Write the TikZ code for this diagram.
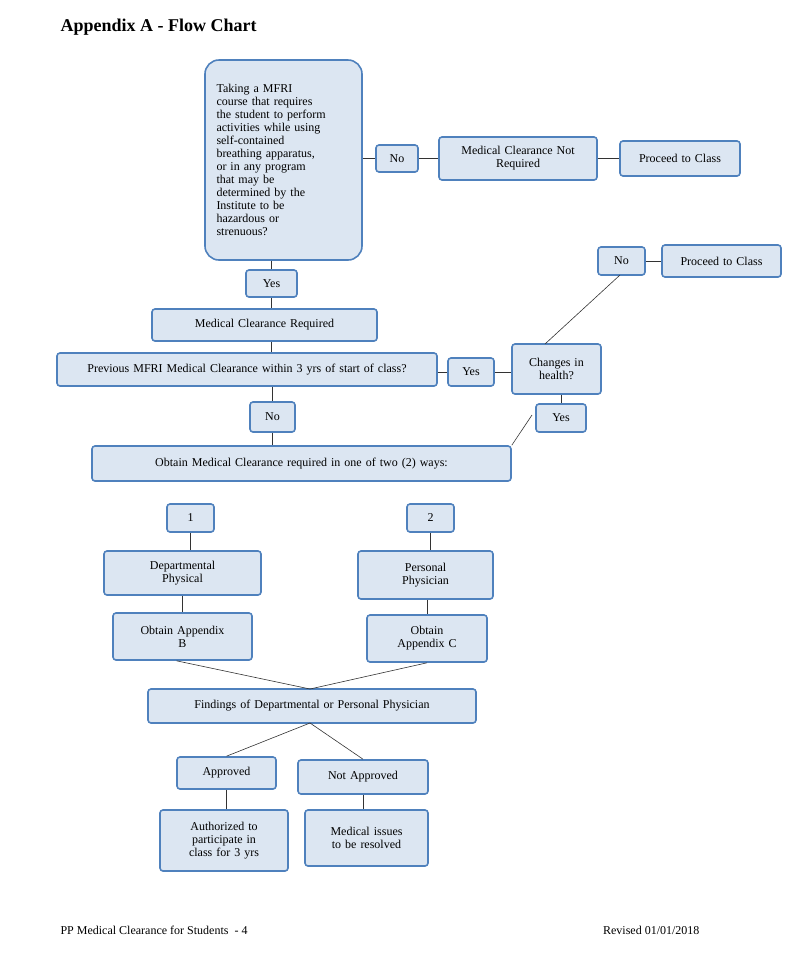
\documentclass[tikz,border=0pt]{standalone}
\usepackage{fontspec}
\setmainfont{Liberation Serif}
\definecolor{boxfill}{HTML}{DCE6F2}
\definecolor{boxline}{HTML}{4F81BD}
\tikzset{%
  flowbox/.style = {shape=rectangle, rounded corners=3pt, draw=boxline,%
                    line width=1.6pt, fill=boxfill, align=center,%
                    inner sep=2pt, font=\fontsize{12}{13}\selectfont},%
  link/.style    = {draw=black!80, line width=0.6pt}%
}
% box from (x1,y1) to (x2,y2) in pixels
\newcommand{\fbx}[6]{%
  \pgfmathsetmacro{\bw}{#4-#2}\pgfmathsetmacro{\bh}{#5-#3}%
  \pgfmathsetmacro{\tw}{#4-#2-8}%
  \node[flowbox, minimum width=\bw pt, minimum height=\bh pt,%
        text width=\tw pt] (#1) at ({(#2+#4)/2},{(#3+#5)/2}) {#6};}
\begin{document}
\begin{tikzpicture}[x=1pt,y=-1pt]
  \useasboundingbox (0,0) rectangle (800,962);
  \node[anchor=west, font=\fontsize{18}{20}\selectfont\bfseries] (title) at (57,27) {Appendix A - Flow Chart};
  % question
  \node[flowbox, rounded corners=14pt, minimum width=157pt, minimum height=200pt,
        text width=134pt, align=left] (quest) at (283.5,160)
    {Taking a MFRI\\course that requires\\the student to perform\\activities while using\\self-contained\\breathing apparatus,\\or in any program\\that may be\\determined by the\\Institute to be\\hazardous or\\strenuous?};
  \fbx{no1}{376}{145}{418}{172}{No}
  \fbx{notreq}{439}{137}{597}{180}{Medical Clearance Not\\Required}
  \fbx{proc1}{620}{141}{740}{176}{Proceed to Class}
  \fbx{yes1}{246}{270}{297}{297}{Yes}
  \fbx{req}{152}{309}{377}{341}{Medical Clearance Required}
  \fbx{prev}{57}{353}{437}{386}{Previous MFRI Medical Clearance within 3 yrs of start of class?}
  \fbx{yes2}{448}{358}{494}{386}{Yes}
  \fbx{change}{512}{344}{601}{394}{Changes in\\health?}
  \fbx{no2}{598}{247}{645}{275}{No}
  \fbx{proc2}{662}{245}{781}{277}{Proceed to Class}
  \fbx{yes3}{536}{404}{586}{432}{Yes}
  \fbx{no3}{250}{402}{295}{432}{No}
  \fbx{obtain}{92}{446}{511}{481}{Obtain Medical Clearance required in one of two (2) ways:}
  \fbx{one}{167}{504}{214}{532}{1}
  \fbx{two}{407}{504}{454}{532}{2}
  \fbx{dept}{104}{551}{261}{595}{Departmental\\Physical}
  \fbx{pers}{358}{551}{493}{599}{Personal\\Physician}
  \fbx{appb}{113}{613}{252}{660}{Obtain Appendix\\B}
  \fbx{appc}{367}{615}{487}{662}{Obtain\\Appendix C}
  \fbx{find}{148}{689}{476}{723}{Findings of Departmental or Personal Physician}
  \fbx{appr}{177}{757}{276}{789}{Approved}
  \fbx{notappr}{298}{760}{428}{794}{Not Approved}
  \fbx{auth}{160}{810}{288}{871}{Authorized to\\participate in\\class for 3 yrs}
  \fbx{issues}{305}{810}{428}{866}{Medical issues\\to be resolved}
  % connectors
  \coordinate (findtop) at (310,689);
  \coordinate (findbot) at (310,723);
  \coordinate (chtop) at (545,344);
  \coordinate (notip) at (620,275);
  \coordinate (yestip) at (532,415);
  \begin{scope}[on background layer/.try]
  \draw[link] (quest.east |- no1.west) -- (no1.west) (no1.east) -- (notreq.west) (notreq.east) -- (proc1.west);
  \draw[link] (quest.south -| yes1) -- (yes1.north) (yes1.south) -- (req.north -| yes1) (req.south -| yes1) -- (prev.north -| yes1);
  \draw[link] (prev.east |- yes2) -- (yes2.west) (yes2.east) -- (change.west |- yes2);
  \draw[link] (chtop) -- (notip);
  \draw[link] (no2.east) -- (proc2.west);
  \draw[link] (change.south -| yes3) -- (yes3.north);
  \draw[link] (yestip) -- (obtain.north east);
  \draw[link] (prev.south -| no3) -- (no3.north) (no3.south) -- (obtain.north -| no3);
  \draw[link] (one.south) -- (dept.north -| one) (dept.south -| appb) -- (appb.north);
  \draw[link] (two.south) -- (pers.north -| two) (pers.south -| appc) -- (appc.north);
  \draw[link] ([xshift=-6pt]appb.south) -- (findtop) -- (appc.south);
  \draw[link] (appr.north) -- (findbot) -- (notappr.north);
  \draw[link] (appr.south) -- (auth.north -| appr);
  \draw[link] (notappr.south) -- (issues.north -| notappr);
  \end{scope}
  % footer
  \node[anchor=west, font=\fontsize{12}{13}\selectfont] (foot) at (57,930) {PP Medical Clearance for Students\ \ - 4};
  \node[anchor=east, font=\fontsize{12}{13}\selectfont] (rev) at (703,930) {Revised 01/01/2018};
\end{tikzpicture}
\end{document}
